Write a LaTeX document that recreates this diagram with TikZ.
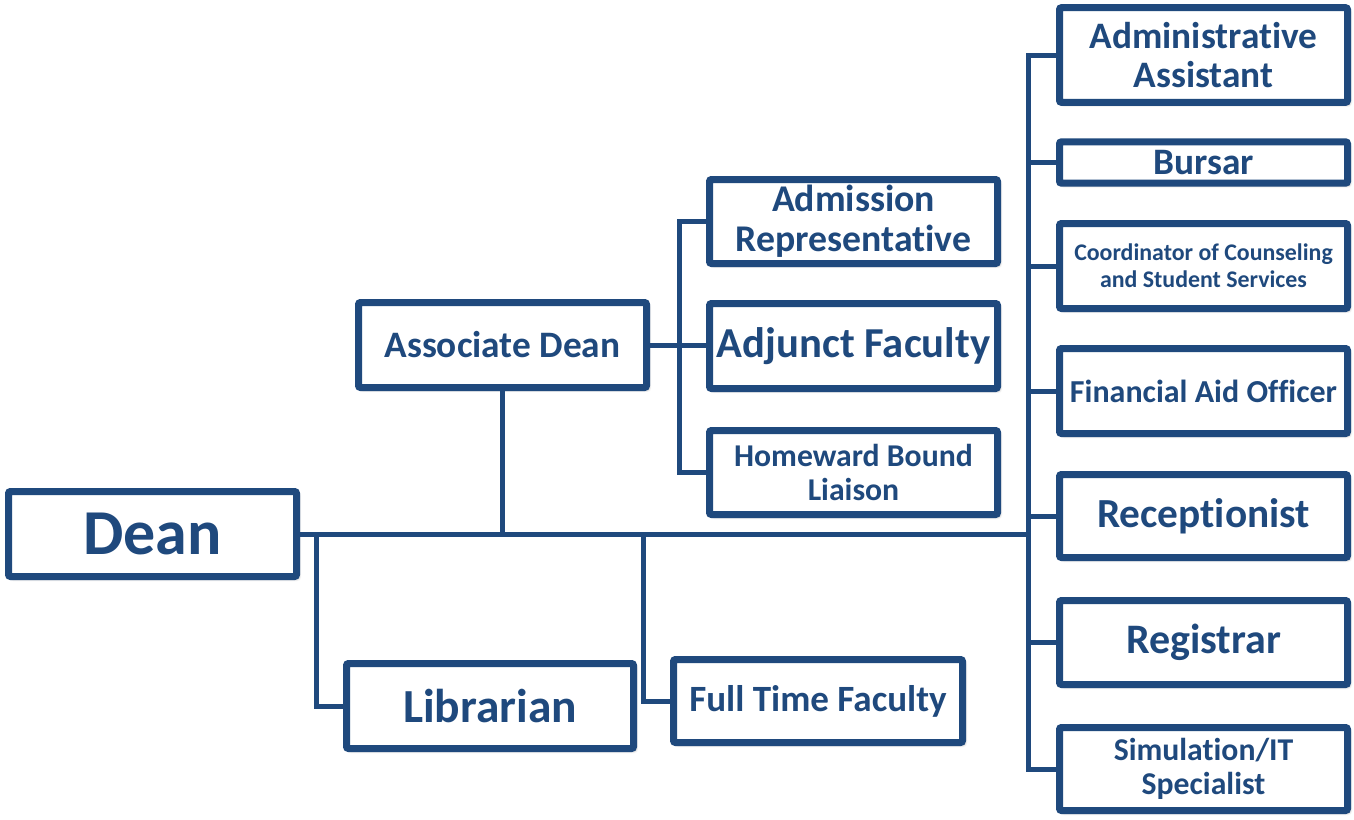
\documentclass[tikz,border=0pt]{standalone}
\usepackage{fontspec}
\setmainfont[Ligatures={NoCommon,NoRare,NoContextual}]{Carlito}
\usetikzlibrary{shadows.blur}
\definecolor{navy}{RGB}{31,73,125}
\tikzset{
  box/.style={draw=navy, line width=5.25pt, fill=white, rounded corners=1.5pt,
    text=navy, align=center, inner sep=0pt, minimum width=216pt,
    blur shadow={shadow xshift=1.8pt, shadow yshift=-1.8pt, shadow blur steps=6, shadow opacity=35}},
  conn/.style={draw=navy, line width=3.75pt},
}
\begin{document}
\begin{tikzpicture}[x=0.75pt, y=-0.75pt]
\useasboundingbox (0,0) rectangle (1354,819);
% boxes
\node[box, minimum height=63.75pt, font=\bfseries\fontsize{48}{50}\selectfont] (dean) at (152.5,534) {Dean};
\node[box, minimum height=63.75pt, font=\bfseries\fontsize{28}{31}\selectfont] (assoc) at (502.5,345) {Associate Dean};
\node[box, minimum height=63pt, font=\bfseries\fontsize{28.3}{30}\selectfont] (admrep) at (853.5,221.5) {Admission\\Representative};
\node[box, minimum height=63.75pt, font=\bfseries\fontsize{32}{36}\selectfont] (adjunct) at (853.5,346) {Adjunct Faculty};
\node[box, minimum height=63pt, font=\bfseries\fontsize{23.8}{26}\selectfont] (homeward) at (853.5,472.5) {Homeward Bound\\Liaison};
\node[box, minimum height=71pt, font=\bfseries\fontsize{28}{29.5}\selectfont] (adminasst) at (1203.5,55) {Administrative\\Assistant};
\node[box, minimum height=31pt, font=\bfseries\fontsize{28}{30}\selectfont] (bursar) at (1203.5,162.5) {Bursar};
\node[box, minimum height=63.75pt, font=\bfseries\fontsize{17.9}{20}\selectfont] (coord) at (1203.5,266) {Coordinator of Counseling\\and Student Services};
\node[box, minimum height=63.75pt, font=\bfseries\fontsize{24}{27}\selectfont] (finaid) at (1203.5,391) {Financial Aid Officer};
\node[box, minimum height=62.25pt, font=\bfseries\fontsize{31}{34}\selectfont] (recep) at (1203.5,516) {Receptionist};
\node[box, minimum height=63pt, font=\bfseries\fontsize{31.5}{34}\selectfont] (registrar) at (1203.5,642.5) {Registrar};
\node[box, minimum height=62.25pt, font=\bfseries\fontsize{23.8}{26}\selectfont] (sim) at (1203.5,769) {Simulation/IT\\Specialist};
\node[box, minimum height=63.75pt, minimum width=215.25pt, font=\bfseries\fontsize{35.6}{40}\selectfont] (librarian) at (490,706) {Librarian};
\node[box, minimum height=62.25pt, minimum width=216.75pt, font=\bfseries\fontsize{27.8}{30}\selectfont] (fulltime) at (818,701) {Full Time Faculty};
% bus coordinates
\coordinate (rb) at (1028,0);
\coordinate (lb) at (679,0);
\coordinate (libx) at (316,0);
\coordinate (ftx) at (643,0);
% connectors
\draw[conn] (dean.east) -- (dean.east -| rb);
\draw[conn] (assoc.south) -- (assoc.south |- dean.east);
\draw[conn] (assoc.east) -- (assoc.east -| adjunct.west);
\draw[conn] (admrep.west) -- (admrep.west -| lb) -- (homeward.west -| lb) -- (homeward.west);
\draw[conn] (adminasst.west) -- (adminasst.west -| rb) -- (sim.west -| rb) -- (sim.west);
\draw[conn] (bursar.west) -- (bursar.west -| rb);
\draw[conn] (coord.west) -- (coord.west -| rb);
\draw[conn] (finaid.west) -- (finaid.west -| rb);
\draw[conn] (recep.west) -- (recep.west -| rb);
\draw[conn] (registrar.west) -- (registrar.west -| rb);
\draw[conn] (dean.east -| libx) |- (librarian.west);
\draw[conn] (dean.east -| ftx) |- (fulltime.west);
\end{tikzpicture}
\end{document}
